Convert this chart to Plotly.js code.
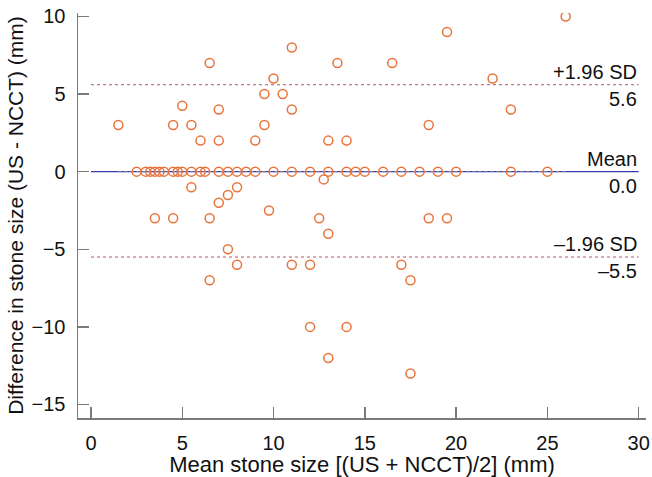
<!DOCTYPE html>
<html>
<head>
<meta charset="utf-8">
<script src="https://cdn.plot.ly/plotly-3.0.1.min.js"></script>
<style>html,body{margin:0;padding:0;background:#fff;}#chart{width:652px;height:477px;}</style>
</head>
<body>
<div id="chart"></div>
<script>
// Bland-Altman data: mean stone size (x) vs difference US - NCCT (y)
const meanSize = [
  1.5, 4.5, 5.5, 9.5, 18.5, 5, 7, 11, 23, 6.5, 13.5, 16.5, 10, 22, 9.5, 10.5, 11, 19.5, 26,
  6, 7, 9, 13, 14,
  2.5, 3, 3.25, 3.5, 3.75, 4, 4.5, 4.75, 5, 5.5, 6, 6.25, 7, 7.5, 8, 8.5, 9, 10, 11, 12, 13, 14, 14.5, 15, 16, 17, 18, 19, 20, 23, 25,
  5.5, 8, 7.5, 7, 3.5, 4.5, 6.5, 9.75, 12.75, 12.5, 13, 18.5, 19.5,
  7.5, 8, 6.5, 11, 12, 17, 17.5, 12, 14, 13, 17.5
];
const difference = [
  3, 3, 3, 3, 3, 4.25, 4, 4, 4, 7, 7, 7, 6, 6, 5, 5, 8, 9, 10,
  2, 2, 2, 2, 2,
  0, 0, 0, 0, 0, 0, 0, 0, 0, 0, 0, 0, 0, 0, 0, 0, 0, 0, 0, 0, 0, 0, 0, 0, 0, 0, 0, 0, 0, 0, 0,
  -1, -1, -1.5, -2, -3, -3, -3, -2.5, -0.5, -3, -4, -3, -3,
  -5, -6, -7, -6, -6, -6, -7, -10, -10, -12, -13
];
const meanDiff = 0.0;
const upperLoA = 5.6;
const lowerLoA = -5.5;
const lineSpanX = [0, 30];
const regX = [1.5, 26];
const regY = [0, 0];
const xTicks = [0, 5, 10, 15, 20, 25, 30];
const yTicks = [-15, -10, -5, 0, 5, 10];

const font = 'Liberation Sans, Arial, sans-serif';

const traces = [
  {x: lineSpanX, y: [upperLoA, upperLoA], mode: 'lines', line: {color: '#b4555a', width: 1, dash: 'dot'}, hoverinfo: 'skip'},
  {x: lineSpanX, y: [lowerLoA, lowerLoA], mode: 'lines', line: {color: '#b4555a', width: 1, dash: 'dot'}, hoverinfo: 'skip'},
  {x: lineSpanX, y: [meanDiff, meanDiff], mode: 'lines', line: {color: '#3b3bb0', width: 1.3}, hoverinfo: 'skip'},
  {x: regX, y: regY, mode: 'lines', line: {color: '#8a8a9a', width: 1, dash: 'dot'}, hoverinfo: 'skip'},
  {x: meanSize, y: difference, mode: 'markers', type: 'scatter',
   marker: {symbol: 'circle-open', size: 9, color: '#e8743b', line: {width: 1.5, color: '#e8743b'}}}
];

const ann = (y, text, yshift) => ({x: 30, y: y, xref: 'x', yref: 'y', text: text, showarrow: false,
  xanchor: 'right', yanchor: 'middle', yshift: yshift, font: {family: font, size: 20, color: '#111'}});

const layout = {
  width: 652, height: 477,
  margin: {l: 78, r: 6, t: 13, b: 59},
  paper_bgcolor: '#fff', plot_bgcolor: '#fff',
  showlegend: false,
  font: {family: font, size: 20, color: '#111'},
  xaxis: {
    range: [-0.71, 30.4], tickvals: xTicks, ticktext: xTicks.map(String),
    showgrid: false, zeroline: false, showline: true, linecolor: '#7a7a7a', linewidth: 1.5,
    ticks: 'inside', ticklen: 11, tickwidth: 1.5, tickcolor: '#7a7a7a',
    ticklabelstandoff: 6,
    title: {text: 'Mean stone size [(US + NCCT)/2] (mm)', font: {family: font, size: 22, color: '#111'}, standoff: 5}
  },
  yaxis: {
    range: [-15.87, 10.22], tickvals: yTicks,
    showgrid: false, zeroline: false, showline: true, linecolor: '#7a7a7a', linewidth: 1.5,
    ticks: 'inside', ticklen: 11, tickwidth: 1.5, tickcolor: '#7a7a7a',
    ticklabelstandoff: 7,
    title: {text: 'Difference in stone size (US - NCCT) (mm)', font: {family: font, size: 21, color: '#111'}, standoff: 2}
  },
  annotations: [
    ann(upperLoA, '+1.96 SD', 13), ann(upperLoA, upperLoA.toFixed(1), -14),
    ann(meanDiff, 'Mean', 13), ann(meanDiff, meanDiff.toFixed(1), -14),
    ann(lowerLoA, '–1.96 SD', 13), ann(lowerLoA, '–' + Math.abs(lowerLoA).toFixed(1), -14)
  ]
};

Plotly.newPlot('chart', traces, layout, {displayModeBar: false, staticPlot: true});
</script>
</body>
</html>
